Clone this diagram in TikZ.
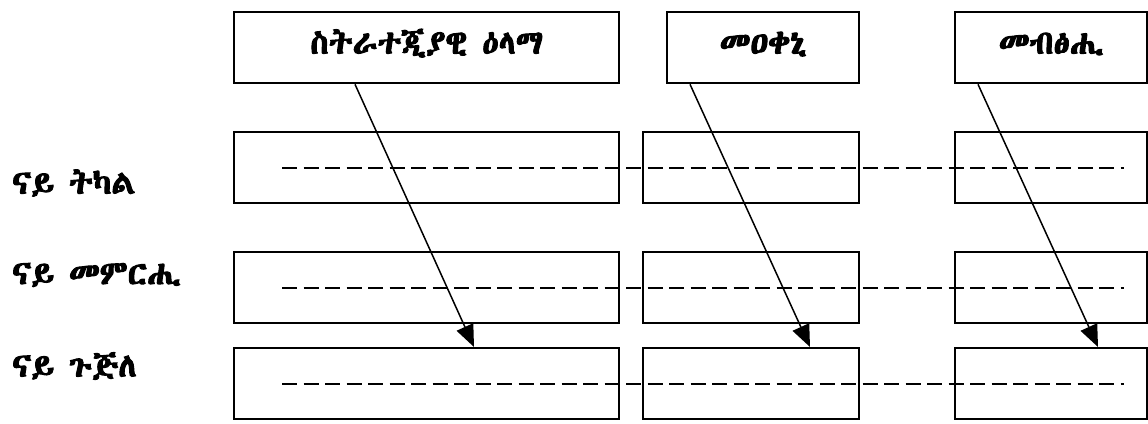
\documentclass[tikz,border=0pt]{standalone}
\usepackage{fontspec}
\newfontfamily\geez[Script=Ethiopic,FakeBold=3]{Abyssinica SIL}
\usepackage{tikz}
\usetikzlibrary{arrows.meta}
\begin{document}
\begin{tikzpicture}[x=1pt,y=-1pt,>=Latex,
  box/.style={draw,line width=2.3pt,inner sep=0pt,anchor=north west,font=\geez\fontsize{33}{36}\selectfont},
  headbox/.style={box,minimum height=71pt,text height=22pt,text depth=10pt},
  rowbox/.style={box,minimum height=71pt},
  rowlabel/.style={anchor=west,inner sep=0pt,font=\geez\fontsize{33}{36}\selectfont},
  guide/.style={line width=1.9pt,dash pattern=on 15pt off 6.5pt},
  arrow/.style={-{Triangle[length=22pt,width=18pt]},line width=1.5pt}]
  \useasboundingbox (0,0) rectangle (1148,423);
  % column heads
  \node[headbox,minimum width=385pt] (t1) at (233,11) {ስትራተጂያዊ ዕላማ};
  \node[headbox,minimum width=192pt] (t2) at (666,11) {መዐቀኒ};
  \node[headbox,minimum width=192pt] (t3) at (954,11) {መብፅሒ};
  % rows
  \node[rowbox,minimum width=385pt] (r11) at (233,131) {};
  \node[rowbox,minimum width=216pt] (r12) at (642,131) {};
  \node[rowbox,minimum width=192pt] (r13) at (954,131) {};
  \node[rowbox,minimum width=385pt] (r21) at (233,251) {};
  \node[rowbox,minimum width=216pt] (r22) at (642,251) {};
  \node[rowbox,minimum width=192pt] (r23) at (954,251) {};
  \node[rowbox,minimum width=385pt] (r31) at (233,347) {};
  \node[rowbox,minimum width=216pt] (r32) at (642,347) {};
  \node[rowbox,minimum width=192pt] (r33) at (954,347) {};
  \node[rowlabel] (l1) at (12,183) {ናይ ትካል};
  \node[rowlabel] (l2) at (12,275) {ናይ መምርሒ};
  \node[rowlabel] (l3) at (12,366) {ናይ ጉጅለ};
  % dashed guides
  \draw[guide] ([xshift=49pt]r11.west) -- ([xshift=-24pt]r13.east);
  \draw[guide] ([xshift=49pt]r21.west) -- ([xshift=-24pt]r23.east);
  \draw[guide] ([xshift=49pt]r31.west) -- ([xshift=-24pt]r33.east);
  % arrows
  \draw[arrow] ([xshift=122pt]t1.south west) -- ([xshift=241pt]r31.north west);
  \draw[arrow] ([xshift=24pt]t2.south west) -- ([xshift=168pt]r32.north west);
  \draw[arrow] ([xshift=24pt]t3.south west) -- ([xshift=144pt]r33.north west);
\end{tikzpicture}
\end{document}
